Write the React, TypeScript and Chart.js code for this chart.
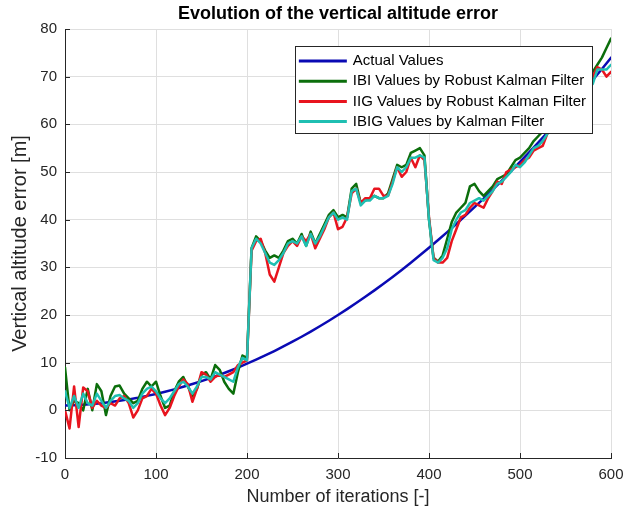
import React, { useEffect, useRef } from "react";
import { Chart, registerables } from "chart.js";

Chart.register(...registerables);

const FONT = "'Liberation Sans', Arial, Helvetica, sans-serif";

const TITLE = "Evolution of the vertical altitude error";
const X_LABEL = "Number of iterations [-]";
const Y_LABEL = "Vertical altitude error [m]";

const X_TICKS = [0, 100, 200, 300, 400, 500, 600];
const Y_TICKS = [-10, 0, 10, 20, 30, 40, 50, 60, 70, 80];

const SERIES_NAMES = [
  "Actual Values",
  "IBI Values by Robust Kalman Filter",
  "IIG Values by Robust Kalman Filter",
  "IBIG Values by Kalman Filter",
];
const SERIES_COLORS = ["#0a0ab4", "#0b6e0b", "#e8141e", "#1fbfb2"];

// Actual values, every 10 iterations
const actualIterations = [
  0, 10, 20, 30, 40, 50, 60, 70, 80, 90, 100, 110, 120, 130, 140, 150, 160, 170, 180, 190,
  200, 210, 220, 230, 240, 250, 260, 270, 280, 290, 300, 310, 320, 330, 340, 350, 360, 370,
  380, 390, 400, 410, 420, 430, 440, 450, 460, 470, 480, 490, 500, 510, 520, 530, 540, 550,
  560, 570, 580, 590, 600,
];
const actualValues = [
  1.0, 1.07, 1.18, 1.33, 1.51, 1.74, 2.0, 2.3, 2.64, 3.03, 3.44, 3.9, 4.4, 4.94, 5.51, 6.12,
  6.78, 7.47, 8.2, 8.97, 9.78, 10.62, 11.51, 12.43, 13.4, 14.4, 15.44, 16.52, 17.64, 18.8,
  20.0, 21.23, 22.51, 23.82, 25.17, 26.56, 27.99, 29.46, 30.97, 32.52, 34.1, 35.73, 37.39,
  39.09, 40.84, 42.62, 44.43, 46.29, 48.19, 50.13, 52.1, 54.11, 56.17, 58.26, 60.39, 62.56,
  64.76, 67.01, 69.3, 71.62, 73.98,
];

// Filter estimates, every 5 iterations
const iterations = [
  0, 5, 10, 15, 20, 25, 30, 35, 40, 45, 50, 55, 60, 65, 70, 75, 80, 85, 90, 95,
  100, 105, 110, 115, 120, 125, 130, 135, 140, 145, 150, 155, 160, 165, 170, 175, 180, 185, 190, 195,
  200, 205, 210, 215, 220, 225, 230, 235, 240, 245, 250, 255, 260, 265, 270, 275, 280, 285, 290, 295,
  300, 305, 310, 315, 320, 325, 330, 335, 340, 345, 350, 355, 360, 365, 370, 375, 380, 385, 390, 395,
  400, 405, 410, 415, 420, 425, 430, 435, 440, 445, 450, 455, 460, 465, 470, 475, 480, 485, 490, 495,
  500, 505, 510, 515, 520, 525, 530, 535, 540, 545, 550, 555, 560, 565, 570, 575, 580, 585, 590, 595,
  600,
];
const ibiValues = [
  9.0, 0.0, 2.0, 1.5, 0.0, 4.5, 0.0, 5.5, 4.0, -1.0, 3.0, 5.0, 5.2, 3.5, 2.5, 1.5, 2.0, 4.5, 6.0, 5.0,
  6.0, 3.0, 0.5, 1.0, 4.0, 6.0, 7.0, 5.0, 3.0, 4.5, 7.5, 8.0, 6.5, 9.5, 8.5, 6.0, 4.5, 3.5, 8.0, 11.5,
  11.0, 34.0, 36.5, 35.5, 33.5, 32.0, 32.5, 32.0, 33.5, 35.5, 36.0, 35.0, 37.0, 34.5, 37.5, 35.0, 37.0, 39.0, 41.0, 42.0,
  40.5, 41.0, 40.5, 46.5, 47.5, 43.5, 44.0, 44.5, 45.0, 44.5, 44.5, 45.5, 48.5, 51.5, 51.0, 51.5, 54.0, 54.5, 55.0, 53.5,
  40.0, 32.0, 31.2, 32.5, 36.0, 39.5, 41.5, 42.5, 43.5, 47.0, 47.5, 46.0, 45.0, 46.0, 47.0, 48.5, 49.0, 49.5, 51.0, 52.5,
  53.0, 54.0, 55.0, 56.5, 57.5, 58.5, 60.0, 61.5, 62.5, 63.5, 65.0, 66.0, 67.0, 68.0, 69.0, 70.0, 71.0, 72.5, 74.0, 76.0,
  78.0,
];
const iigValues = [
  0.0, -3.8, 5.0, -3.5, 4.8, 4.0, 0.5, 2.0, 1.0, 0.5, 1.5, 1.0, 2.5, 3.0, 1.5, -1.5, 0.0, 2.5, 3.0, 4.5,
  3.5, 1.0, -1.0, 0.5, 3.0, 5.0, 6.5, 5.5, 1.8, 4.5, 8.0, 7.5, 6.0, 7.0, 7.5, 7.0, 7.5, 8.0, 9.5, 10.0,
  10.5, 33.5, 35.5, 36.0, 33.0, 28.5, 27.0, 30.0, 33.0, 34.5, 35.5, 34.5, 36.5, 35.5, 37.0, 34.0, 36.0, 38.0, 40.5, 41.5,
  38.0, 38.5, 40.5, 45.5, 46.5, 43.5, 44.5, 44.5, 46.5, 46.5, 45.0, 45.0, 48.0, 51.0, 49.0, 50.0, 53.0, 51.0, 53.5, 52.5,
  40.5, 32.0, 31.0, 31.0, 32.0, 35.5, 38.0, 40.5, 41.0, 42.5, 43.5, 43.0, 42.5, 44.5, 46.0, 48.0, 47.5, 50.0, 50.5, 51.0,
  51.5, 52.5, 53.0, 54.5, 55.0, 55.5, 58.0, 59.5, 60.5, 61.5, 62.5, 64.0, 65.0, 66.0, 67.5, 68.5, 70.0, 72.0, 71.5, 70.0,
  71.0,
];
const ibigValues = [
  4.0, 0.5, 3.0, 0.5, 3.5, 1.5, 1.0, 3.5, 2.0, 0.5, 2.0, 3.0, 3.2, 2.5, 2.0, 0.5, 1.5, 3.5, 4.5, 5.0,
  4.0, 2.5, 1.5, 2.5, 4.0, 5.5, 6.0, 5.0, 3.5, 5.0, 7.0, 7.0, 6.5, 8.0, 7.5, 7.0, 6.5, 6.0, 9.0, 11.0,
  10.5, 34.0, 36.0, 35.0, 33.0, 31.0, 30.5, 31.5, 33.0, 35.0, 35.5, 35.0, 36.5, 34.5, 37.0, 35.0, 36.5, 38.5, 40.5, 41.5,
  40.0, 40.5, 40.0, 46.0, 46.5, 43.0, 44.0, 44.0, 45.0, 44.5, 44.5, 45.0, 47.5, 51.0, 50.0, 51.0, 53.0, 53.0, 53.5, 53.0,
  40.0, 31.5, 31.0, 32.0, 34.0, 38.0, 40.0, 41.5, 42.0, 43.5, 44.0, 44.5, 44.0, 45.0, 46.0, 47.5, 48.0, 49.0, 50.0, 51.5,
  51.0, 52.0, 53.5, 55.0, 55.5, 56.5, 58.0, 59.0, 60.0, 61.0, 62.0, 63.0, 64.0, 65.5, 66.5, 67.5, 68.5, 71.5, 71.5, 71.5,
  72.5,
];

const toPoints = (xs: number[], ys: number[]) => xs.map((x, i) => ({ x, y: ys[i] }));

const AXIS_COLOR = "#262626";
const GRID_COLOR = "#dfdfdf";

const overlayPlugin = {
  id: "matlabOverlay",
  afterDraw(chart: any) {
    const { ctx, chartArea } = chart;
    const xs = chart.scales.x;
    const ys = chart.scales.y;
    ctx.save();
    // inner tick marks
    ctx.strokeStyle = AXIS_COLOR;
    ctx.lineWidth = 1;
    ctx.beginPath();
    xs.ticks.forEach((t: any) => {
      const px = Math.round(xs.getPixelForValue(t.value)) + 0.5;
      ctx.moveTo(px, chartArea.bottom);
      ctx.lineTo(px, chartArea.bottom - 5);
    });
    ys.ticks.forEach((t: any) => {
      const py = Math.round(ys.getPixelForValue(t.value)) + 0.5;
      ctx.moveTo(chartArea.left, py);
      ctx.lineTo(chartArea.left + 5, py);
    });
    ctx.stroke();

    // legend box inside the plot
    const fontSize = 15;
    ctx.font = `${fontSize}px ${FONT}`;
    const datasets = chart.data.datasets;
    const maxText = Math.max(...datasets.map((d: any) => ctx.measureText(d.label).width));
    const lineLen = 48;
    const boxW = 4 + lineLen + 6 + maxText + 6;
    const rowH = 20.2;
    const boxH = 87;
    const right = chartArea.right - 19;
    const left = right - boxW;
    const top = chartArea.top + 17;
    ctx.fillStyle = "#ffffff";
    ctx.fillRect(left, top, boxW, boxH);
    ctx.strokeStyle = AXIS_COLOR;
    ctx.lineWidth = 1;
    ctx.strokeRect(Math.round(left) + 0.5, Math.round(top) + 0.5, Math.round(boxW), Math.round(boxH));
    datasets.forEach((d: any, i: number) => {
      const cy = top + 15 + i * rowH;
      ctx.strokeStyle = d.borderColor;
      ctx.lineWidth = 3;
      ctx.beginPath();
      ctx.moveTo(left + 4, cy);
      ctx.lineTo(left + 4 + lineLen, cy);
      ctx.stroke();
      ctx.fillStyle = "#000000";
      ctx.textAlign = "left";
      ctx.textBaseline = "middle";
      ctx.fillText(d.label, left + 4 + lineLen + 6, cy);
    });

    // title centred over the plot area
    ctx.font = `bold 18px ${FONT}`;
    ctx.fillStyle = "#000000";
    ctx.textAlign = "center";
    ctx.textBaseline = "middle";
    ctx.fillText(TITLE, (chartArea.left + chartArea.right) / 2, 14);
    ctx.restore();
  },
};

export default function App() {
  const ref = useRef<HTMLCanvasElement>(null);
  useEffect(() => {
    document.body.style.margin = "0";
    const canvas = ref.current;
    if (!canvas) return;
    Chart.defaults.font.family = FONT;
    const seriesData = [
      toPoints(actualIterations, actualValues),
      toPoints(iterations, ibiValues),
      toPoints(iterations, iigValues),
      toPoints(iterations, ibigValues),
    ];
    const chart = new Chart(canvas, {
      type: "line",
      data: {
        datasets: seriesData.map((data, i) => ({
          label: SERIES_NAMES[i],
          data,
          borderColor: SERIES_COLORS[i],
          backgroundColor: SERIES_COLORS[i],
          borderWidth: 2.5,
          pointRadius: 0,
          tension: 0,
          fill: false,
          borderJoinStyle: "round" as const,
          borderCapStyle: "round" as const,
          order: 4 - i,
        })),
      },
      options: {
        responsive: false,
        animation: false,
        devicePixelRatio: 1,
        layout: { padding: { top: 29, right: 14, left: 0, bottom: 0 } },
        plugins: {
          legend: { display: false },
          title: { display: false },
          tooltip: { enabled: false },
        },
        scales: {
          x: {
            type: "linear",
            min: 0,
            max: 600,
            afterBuildTicks: (s: any) => {
              s.ticks = X_TICKS.map((v) => ({ value: v }));
            },
            afterFit: (s: any) => {
              s.height = 56;
              s.paddingLeft = 0;
              s.paddingRight = 0;
            },
            grid: { color: GRID_COLOR, drawTicks: false, lineWidth: 1 },
            border: { color: AXIS_COLOR, width: 1 },
            ticks: { padding: 8, color: AXIS_COLOR, font: { size: 15 }, maxRotation: 0 },
            title: {
              display: true,
              text: X_LABEL,
              color: AXIS_COLOR,
              font: { size: 18 },
              padding: { top: 0, bottom: 6 },
            },
          },
          y: {
            type: "linear",
            min: -10,
            max: 80,
            afterBuildTicks: (s: any) => {
              s.ticks = Y_TICKS.map((v) => ({ value: v }));
            },
            afterFit: (s: any) => {
              s.width = 65;
              s.paddingTop = 0;
              s.paddingBottom = 0;
            },
            grid: { color: GRID_COLOR, drawTicks: false, lineWidth: 1 },
            border: { color: AXIS_COLOR, width: 1 },
            ticks: { padding: 8, color: AXIS_COLOR, font: { size: 15 } },
            title: {
              display: true,
              text: Y_LABEL,
              color: AXIS_COLOR,
              font: { size: 20 },
              padding: { top: 8, bottom: 0 },
            },
          },
        },
      },
      plugins: [overlayPlugin],
    });
    return () => chart.destroy();
  }, []);
  return <canvas ref={ref} width={625} height={514} style={{ display: "block" }} />;
}
